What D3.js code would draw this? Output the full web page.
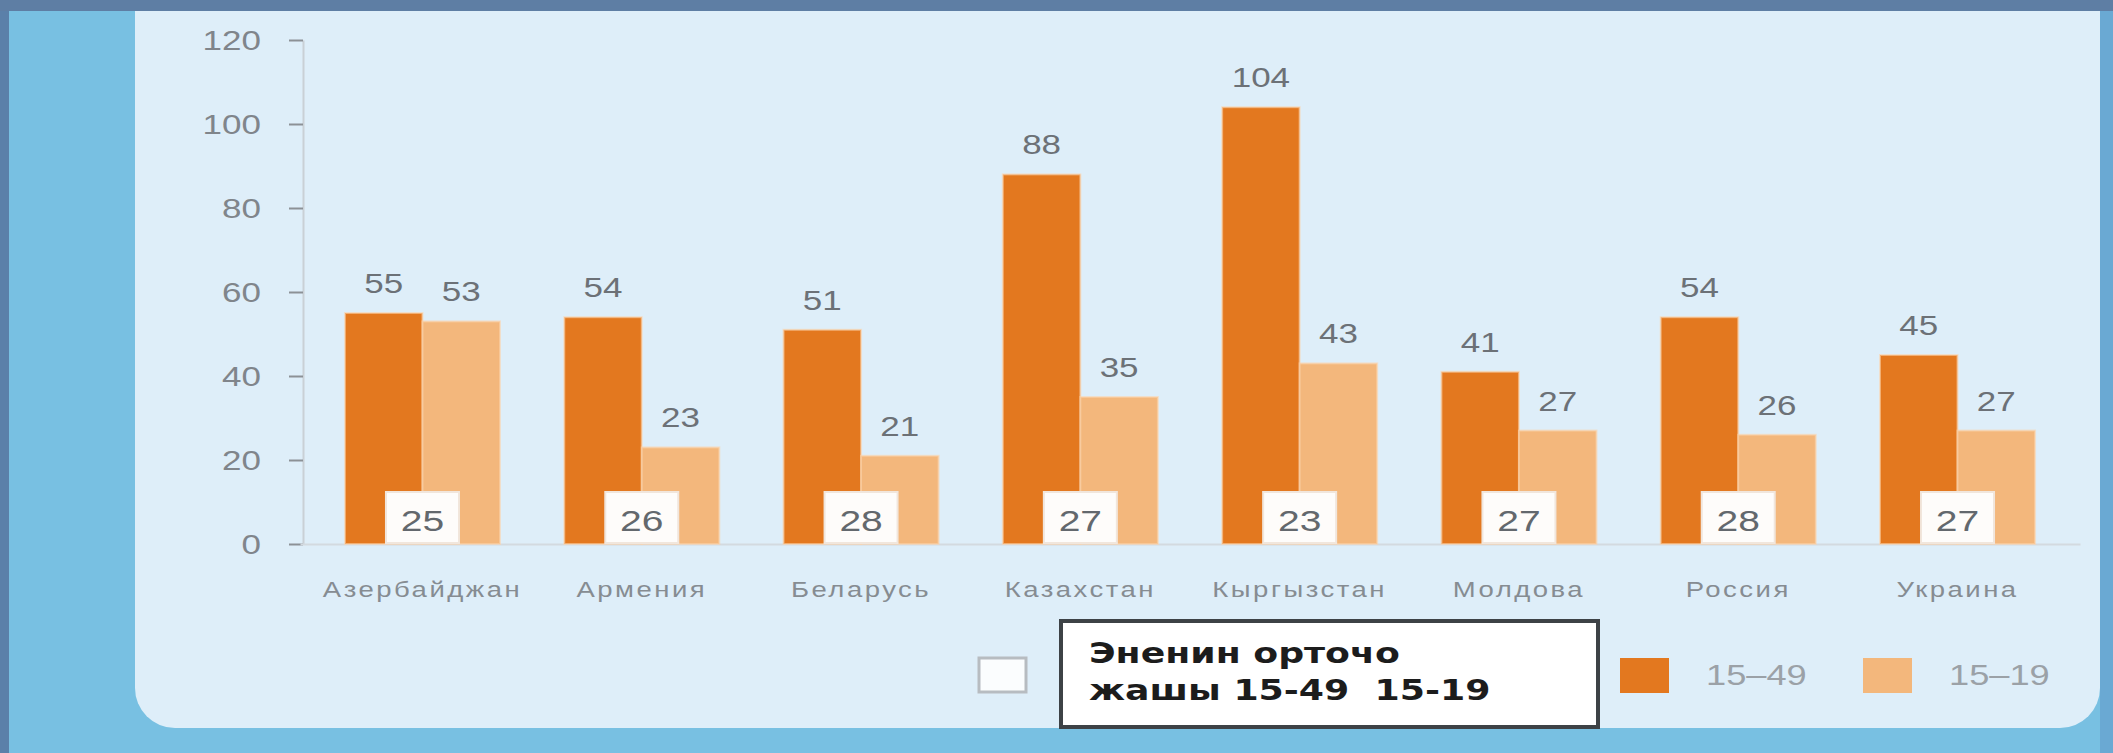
<!DOCTYPE html>
<html>
<head>
<meta charset="utf-8">
<script src="https://cdn.jsdelivr.net/npm/d3@7"></script>
<style>
  html, body { margin: 0; padding: 0; background: #78c0e2; overflow: hidden; }
  svg { display: block; }
</style>
</head>
<body>
<div id="chart"></div>
<script>
// data
var categories = ["Азербайджан", "Армения", "Беларусь", "Казахстан", "Кыргызстан", "Молдова", "Россия", "Украина"];
var rate1549 = [55, 54, 51, 88, 104, 41, 54, 45];
var rate1519 = [53, 23, 21, 35, 43, 27, 26, 27];
var medianAge = [25, 26, 28, 27, 23, 27, 28, 27];
var yTicks = [0, 20, 40, 60, 80, 100, 120];
var seriesKeys = ["15–49", "15–19"];
var ageNoteLines = ["Эненин орточо", "жашы 15-49  15-19"];

const WIDTH = 2113;
const HEIGHT = 753;
const SX = 1.25; // the source picture is stretched sideways, so is its text
var color = d3.scaleOrdinal().domain(seriesKeys).range(["#e3781f", "#f3b77c"]);

const svg = d3.select("#chart")
  .append("svg")
  .attr("width", WIDTH)
  .attr("height", HEIGHT);

// frame / panel
svg.append("rect").attr("width", WIDTH).attr("height", HEIGHT).attr("fill", "#78c0e2");
svg.append("rect").attr("x", 0).attr("y", 0).attr("width", 9).attr("height", HEIGHT).attr("fill", "#5b80a9");
svg.append("rect").attr("x", 2100).attr("y", 0).attr("width", 13).attr("height", HEIGHT).attr("fill", "#6aa9d3");
svg.append("rect").attr("x", 135).attr("y", 0).attr("width", 1965).attr("height", 728).attr("rx", 40).attr("fill", "#deeef9");
svg.append("rect").attr("x", 135).attr("y", 0).attr("width", 1965).attr("height", 200).attr("fill", "#deeef9");
svg.append("rect").attr("x", 0).attr("y", 0).attr("width", WIDTH).attr("height", 11).attr("fill", "#5e7ea4");

// scales
var x0 = d3.scaleBand().domain(categories).range([300, 2080]).paddingInner(0.293).paddingOuter(0.205);
var x1 = d3.scaleBand().domain(seriesKeys).range([0, x0.bandwidth()]);
var y = d3.scaleLinear().domain([0, 120]).range([544, 40]);

// y axis
var yAxis = svg.append("g")
  .attr("transform", "translate(303,0)")
  .call(d3.axisLeft(y).tickValues(yTicks).tickSize(14).tickSizeOuter(0).tickPadding(0));
yAxis.select(".domain").attr("stroke", "#c9d0d6").attr("stroke-width", 2);
yAxis.selectAll(".tick line").attr("stroke", "#8c9196").attr("stroke-width", 2);
yAxis.selectAll(".tick text")
  .attr("x", null).attr("dy", "0.35em")
  .attr("transform", "translate(-42,0) scale(" + SX + ",1)")
  .attr("fill", "#80858b")
  .style("font-family", "'Liberation Sans', Arial, sans-serif")
  .style("font-size", "28px");

// x axis
var xAxis = svg.append("g")
  .attr("transform", "translate(0," + y(0) + ")")
  .call(d3.axisBottom(x0).tickSize(0).tickSizeOuter(0).tickPadding(0));
xAxis.select(".domain").attr("stroke", "#d3dae0").attr("stroke-width", 2);
xAxis.selectAll(".tick text")
  .attr("y", null).attr("dy", null)
  .attr("transform", "translate(0,53) scale(" + SX + ",1)")
  .attr("fill", "#868c92")
  .style("letter-spacing", "2px")
  .style("font-family", "'Liberation Sans', Arial, sans-serif")
  .style("font-size", "22px");

// bars
var rows = categories.map(function (c, i) {
  return { name: c, age: medianAge[i], values: [
    { key: seriesKeys[0], value: rate1549[i] },
    { key: seriesKeys[1], value: rate1519[i] }] };
});

var groups = svg.selectAll("g.group")
  .data(rows)
  .enter().append("g")
  .attr("class", "group")
  .attr("transform", function (d) { return "translate(" + x0(d.name) + ",0)"; });

groups.selectAll("rect.bar")
  .data(function (d) { return d.values; })
  .enter().append("rect")
  .attr("class", "bar")
  .attr("x", function (d) { return x1(d.key); })
  .attr("y", function (d) { return y(d.value); })
  .attr("width", x1.bandwidth())
  .attr("height", function (d) { return y(0) - y(d.value); })
  .attr("fill", function (d) { return color(d.key); })
  .attr("stroke", "#fbd3ac")
  .attr("stroke-opacity", 0.6)
  .attr("stroke-width", 2);

groups.selectAll("text.val")
  .data(function (d) { return d.values; })
  .enter().append("text")
  .attr("class", "val")
  .attr("text-anchor", "middle")
  .attr("transform", function (d) {
    return "translate(" + (x1(d.key) + x1.bandwidth() / 2) + "," + (y(d.value) - 20) + ") scale(" + SX + ",1)";
  })
  .attr("fill", "#6c7177")
  .style("font-family", "'Liberation Sans', Arial, sans-serif")
  .style("font-size", "28px")
  .text(function (d) { return d.value; });

// median age boxes
groups.append("rect")
  .attr("x", x0.bandwidth() / 2 - 36.5)
  .attr("y", y(0) - 52)
  .attr("width", 73)
  .attr("height", 51)
  .attr("fill", "#fefcfa")
  .attr("stroke", "#f1e6dc")
  .attr("stroke-width", 2);

groups.append("text")
  .attr("text-anchor", "middle")
  .attr("transform", "translate(" + x0.bandwidth() / 2 + "," + (y(0) - 13) + ") scale(1.3,1)")
  .attr("fill", "#63686d")
  .style("font-family", "'Liberation Sans', Arial, sans-serif")
  .style("font-size", "30px")
  .text(function (d) { return d.age; });

// legend: median age
var legend = svg.append("g");
legend.append("rect")
  .attr("x", 979).attr("y", 658).attr("width", 47).attr("height", 34)
  .attr("fill", "#fbfdfe").attr("stroke", "#b7bcc1").attr("stroke-width", 3);
legend.append("rect")
  .attr("x", 1061).attr("y", 621).attr("width", 537).attr("height", 106)
  .attr("fill", "#ffffff").attr("stroke", "#3d4246").attr("stroke-width", 4);
legend.selectAll("text.note")
  .data(ageNoteLines)
  .enter().append("text")
  .attr("class", "note")
  .attr("transform", function (d, i) { return "translate(1089," + (663 + i * 37) + ") scale(" + SX + ",1)"; })
  .attr("fill", "#1c1c1c")
  .style("white-space", "pre")
  .style("font-family", "'DejaVu Sans', Verdana, sans-serif")
  .style("font-weight", "bold")
  .style("font-size", "29px")
  .text(function (d) { return d; });

// legend: series
var legendX = d3.scaleOrdinal().domain(seriesKeys).range([1620, 1863]);
var sItems = legend.selectAll("g.sitem")
  .data(seriesKeys)
  .enter().append("g")
  .attr("class", "sitem")
  .attr("transform", function (d) { return "translate(" + legendX(d) + ",658)"; });
sItems.append("rect")
  .attr("width", 49).attr("height", 35)
  .attr("fill", function (d) { return color(d); });
sItems.append("text")
  .attr("transform", "translate(86,27) scale(" + SX + ",1)")
  .attr("fill", "#9ba1a7")
  .style("font-family", "'Liberation Sans', Arial, sans-serif")
  .style("font-size", "29px")
  .text(function (d) { return d; });
</script>
</body>
</html>
